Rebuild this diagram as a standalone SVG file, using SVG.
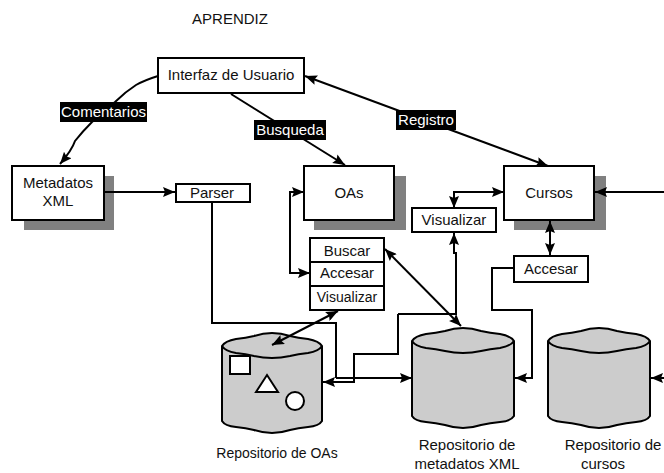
<svg xmlns="http://www.w3.org/2000/svg" width="664" height="473" viewBox="0 0 664 473">
<style>
text{font-family:"Liberation Sans",Arial,sans-serif;font-size:15px;fill:#111;text-anchor:middle}
.sm{font-size:14px}
.box{fill:#fff;stroke:#000;stroke-width:2}
.sh{fill:#808080}
.cyl{fill:#ccc;stroke:#000;stroke-width:2}
.ln{fill:none;stroke:#000;stroke-width:2;marker-end:url(#a)}
.dbl{marker-start:url(#s)}
.plain{marker-end:none}
.lab{fill:#000}
.wt{fill:#fff}
</style>
<defs>
<marker id="a" markerUnits="userSpaceOnUse" markerWidth="13" markerHeight="12" refX="12" refY="5" orient="auto"><path d="M0 0L12 5L0 10L2 5Z" fill="#000"/></marker>
<marker id="s" markerUnits="userSpaceOnUse" markerWidth="13" markerHeight="12" refX="0" refY="5" orient="auto"><path d="M12 0L0 5L12 10L10 5Z" fill="#000"/></marker>
<path id="cb" d="M0 13Q3 8 14 6Q24 5 33 3Q42 0 51 0Q60 0 69 3Q78 5 88 6Q99 8 102 13V88Q99 93 88 94Q78 95 69 97Q60 100 51 100Q42 100 33 97Q24 95 14 94Q3 93 0 88Z"/>
<path id="ct" d="M0 13Q3 18 14 20Q24 21 33 23Q42 25 51 25Q60 25 69 23Q78 21 88 20Q99 18 102 13" fill="none"/>
<path id="cb2" d="M0 13Q3 8 14 6Q24 5 32 3Q41 0 50 0Q59 0 68 3Q76 5 86 6Q97 8 100 13V88Q97 93 86 94Q76 95 68 97Q59 100 50 100Q41 100 32 97Q24 95 14 94Q3 93 0 88Z"/>
<path id="ct2" d="M0 13Q3 18 14 20Q24 21 32 23Q41 25 50 25Q59 25 68 23Q76 21 86 20Q97 18 100 13" fill="none"/>
</defs>
<text x="230" y="24">APRENDIZ</text>

<g id="interfaz"><rect class="box" x="158" y="58" width="146" height="35"/><text x="231" y="80">Interfaz de Usuario</text></g>
<g id="metadatos"><rect class="sh" x="24" y="176" width="90" height="54"/><rect class="box" x="12" y="166" width="92" height="54"/><text x="58" y="188">Metadatos</text><text x="58" y="206">XML</text></g>
<g id="parser"><rect class="box" x="176" y="184" width="74" height="18"/><text x="212" y="198">Parser</text></g>
<g id="oas"><rect class="sh" x="314" y="176" width="92" height="54"/><rect class="box" x="304" y="166" width="90" height="54"/><text x="349" y="198">OAs</text></g>
<g id="cursos"><rect class="sh" x="514" y="176" width="92" height="54"/><rect class="box" x="504" y="166" width="90" height="54"/><text x="549" y="198">Cursos</text></g>
<g id="visualizar"><rect class="box" x="412" y="208" width="84" height="24"/><text x="454" y="224.500">Visualizar</text></g>
<g id="accesar"><rect class="box" x="514" y="256" width="74" height="26"/><text x="551" y="274">Accesar</text></g>
<g id="operaciones"><rect class="box" x="310" y="238" width="74" height="72"/><path d="M310 262H384M310 286H384" stroke="#000" stroke-width="2"/><text x="347" y="256">Buscar</text><text x="347" y="278">Accesar</text><text class="sm" x="347" y="302">Visualizar</text></g>

<g id="repo-oas"><use href="#cb2" class="cyl" transform="translate(222 333)"/><use href="#ct2" class="cyl" transform="translate(222 333)" style="fill:none"/>
<rect x="230" y="356" width="20" height="18" fill="#fff" stroke="#000" stroke-width="2"/><path d="M256 392L267 375L278 392Z" fill="#fff" stroke="#000" stroke-width="2"/><circle cx="295" cy="401" r="9" fill="#fff" stroke="#000" stroke-width="2"/>
<text class="sm" x="277" y="458">Repositorio de OAs</text></g>
<g id="repo-meta"><use href="#cb" class="cyl" transform="translate(412 328)"/><use href="#ct" class="cyl" transform="translate(412 328)" style="fill:none"/><text x="467" y="450">Repositorio de</text><text x="467" y="469">metadatos XML</text></g>
<g id="repo-cursos"><use href="#cb" class="cyl" transform="translate(548 328)"/><use href="#ct" class="cyl" transform="translate(548 328)" style="fill:none"/><text x="613" y="450">Repositorio de</text><text x="603" y="469">cursos</text></g>

<g id="connectors">
<path class="ln" d="M158 76Q145 80 136 85Q125 92 115 102L92 122Q82 132 75 141Q72 150 60 164"/>
<path class="ln" d="M231 94L345 165"/>
<path class="ln dbl" d="M305 76L548 166"/>
<path class="ln" d="M105 192H175"/>
<path class="ln plain" d="M212 202V323H336V378"/>
<path class="ln" d="M336 378H412"/>
<path class="ln dbl" d="M304 192H290V273H310"/>
<path class="ln" d="M398 314V354H354V382H323"/>
<path class="ln" d="M398 314H456V253H454V233"/>
<path class="ln dbl" d="M454 208V192H504"/>
<path class="ln dbl" d="M550 221V255"/>
<path class="ln" d="M514 268H492V310H532V378H515"/>
<path class="ln" d="M664 192H595"/>
<path class="ln" d="M664 378H651"/>
<path class="ln dbl" d="M385 249L461 326"/>
<path class="ln dbl" d="M338 311L272 345"/>
</g>

<g id="lbl-comentarios"><rect class="lab" x="60" y="102" width="87" height="20"/><text class="wt" x="103.500" y="117">Comentarios</text></g>
<g id="lbl-busqueda"><rect class="lab" x="254" y="120" width="72" height="20"/><text class="wt" x="290" y="135">Busqueda</text></g>
<g id="lbl-registro"><rect class="lab" x="396" y="110" width="60" height="20"/><text class="wt" x="426" y="125">Registro</text></g>
</svg>
